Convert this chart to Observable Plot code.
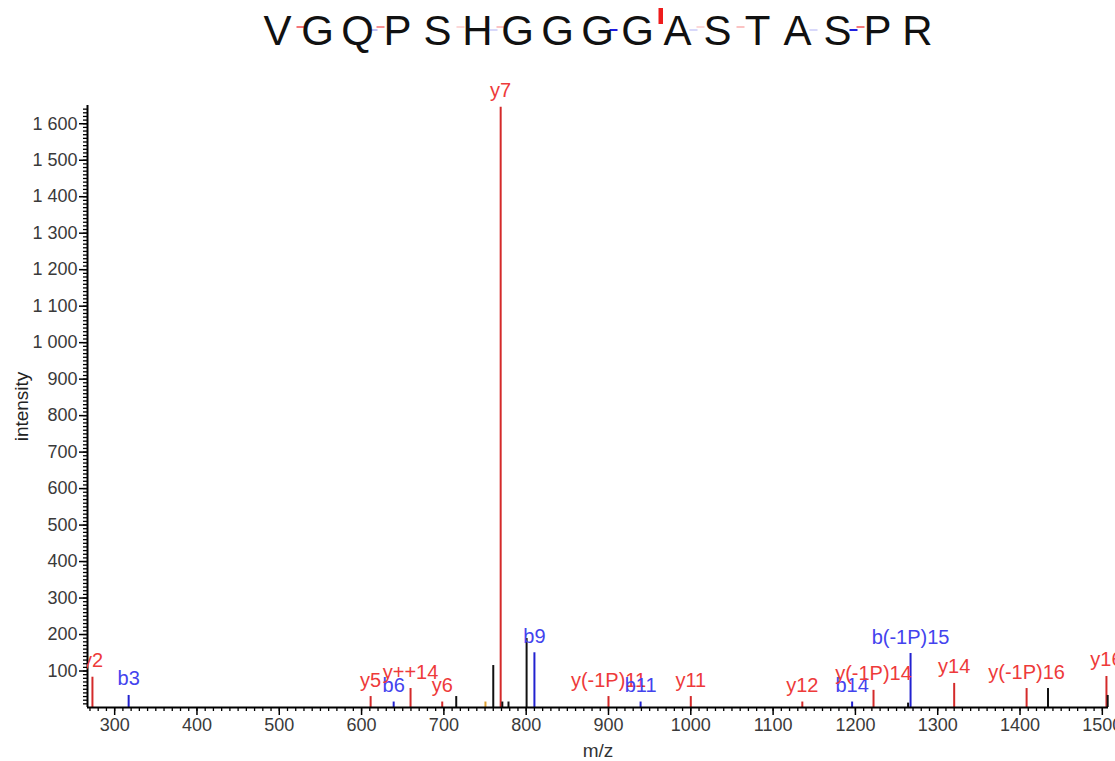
<!DOCTYPE html>
<html>
<head>
<meta charset="utf-8">
<script src="https://cdn.jsdelivr.net/npm/d3@7"></script>
<script src="https://cdn.jsdelivr.net/npm/@observablehq/plot@0.6"></script>
<style>
html, body { margin: 0; padding: 0; background: #fff; overflow: hidden; }
#wrap { position: relative; width: 1115px; height: 761px; font-family: "Liberation Sans", Arial, Helvetica, sans-serif; }
#title { display: block; }
</style>
</head>
<body>
<div id="wrap">
  <svg id="title" width="1115" height="60"></svg>
  <div id="chart"></div>
</div>
<script>
// ---- data ----
const sequence = ["V","G","Q","P","S","H","G","G","G","G","A","S","T","A","S","P","R"];

const peakMz = [273, 317, 611, 639, 659.5, 698, 715, 750.5, 760, 769, 771, 778.5, 800.5, 810, 900, 939, 1000, 1135.5, 1196, 1222, 1264, 1267, 1320, 1408, 1434, 1505, 1506.5];
const peakIntensity = [83, 33, 30, 15, 52, 15, 30, 15, 115, 1645, 15, 15, 189, 150, 30, 15, 30, 15, 15, 47, 12, 148, 66, 52, 52, 85, 33];
const peakType = ["y","b","y","b","y","y","","o","","y","","","","b","y","b","y","y","b","y","","b","y","y","","y",""];
const peakLabel = ["y2","b3","y5","b6","y++14","y6","","","","y7","","","","b9","y(-1P)11","b11","y11","y12","b14","y(-1P)14","","b(-1P)15","y14","y(-1P)16","","y16",""];

const xTickValues = [300, 400, 500, 600, 700, 800, 900, 1000, 1100, 1200, 1300, 1400, 1500];
const yTickValues = [100, 200, 300, 400, 500, 600, 700, 800, 900, 1000, 1100, 1200, 1300, 1400, 1500, 1600];
const xDomain = [267, 1507.5];
const yDomain = [0, 1650];

// ---- build ----
const peaks = peakMz.map((mz, i) => ({mz, intensity: peakIntensity[i], type: peakType[i], label: peakLabel[i]}));
const lineColor = {y: "#d42a2a", b: "#2222d0", o: "#e0a030", "": "#111"};
const textColor = {y: "#ee3a3a", b: "#4343ee", o: "#e0a030", "": "#111"};
const fontFamily = '"Liberation Sans", Arial, Helvetica, sans-serif';

const fmt = d3.formatLocale({decimal: ".", thousands: " ", grouping: [3], currency: ["", ""]}).format(",");
const minorX = d3.range(270, 1508, 10);
const minorY = d3.range(10, 1650, 10);

const marginLeft = 87, marginRight = 7;

const chart = Plot.plot({
  width: 1115,
  height: 701,
  marginTop: 45,
  marginBottom: 54,
  marginLeft,
  marginRight,
  x: {domain: xDomain},
  y: {domain: yDomain},
  style: {fontFamily, background: "white"},
  marks: [
    Plot.axisX({ticks: minorX, tickSize: 4, tickFormat: () => "", stroke: "#000", strokeWidth: 1.3, label: null}),
    Plot.axisX({ticks: xTickValues, tickSize: 8, tickPadding: 3, tickFormat: d => String(d), fontSize: 18, fill: "#3a3a3a", stroke: "#000", strokeWidth: 1.5, label: null}),
    Plot.axisY({ticks: minorY, tickSize: 4, tickFormat: () => "", stroke: "#000", strokeWidth: 1.3, label: null}),
    Plot.axisY({ticks: yTickValues, tickSize: 8, tickPadding: 2, tickFormat: fmt, fontSize: 18, fill: "#3a3a3a", stroke: "#000", strokeWidth: 1.5, label: null}),
    Plot.ruleX(peaks, {x: "mz", y1: 0, y2: "intensity", stroke: d => lineColor[d.type], strokeWidth: 2}),
    Plot.ruleX([xDomain[0]], {stroke: "#000", strokeWidth: 2}),
    Plot.ruleY([0], {stroke: "#000", strokeWidth: 2}),
    Plot.text(peaks, {filter: d => d.label && d.mz < 290, x: "mz", y: "intensity", text: "label", fill: d => textColor[d.type], fontSize: 20, lineAnchor: "bottom", dy: -10, clip: true}),
    Plot.text(peaks, {filter: d => d.label && d.mz >= 290, x: "mz", y: "intensity", text: "label", fill: d => textColor[d.type], fontSize: 20, lineAnchor: "bottom", dy: -10}),
    Plot.text(["intensity"], {frameAnchor: "left", text: d => d, rotate: -90, textAnchor: "middle", lineAnchor: "middle", dx: -66, fontSize: 19, fill: "#222"}),
    Plot.text(["m/z"], {frameAnchor: "bottom", text: d => d, lineAnchor: "middle", dy: 43, fontSize: 19, fill: "#333"})
  ]
});
document.getElementById("chart").appendChild(chart);

// ---- sequence title with fragmentation markers ----
const title = d3.select("#title");
const frameCenter = marginLeft + (1115 - marginLeft - marginRight) / 2;
const step = 40;
const letterX = i => frameCenter + (i - (sequence.length - 1) / 2) * step;
const n = sequence.length;
const maxI = d3.max(peakIntensity);

// markers derived from annotated ions
const ionRe = /^([by])(?:\+\+|\(-1P\))?(\d+)$/;
const markerMap = new Map();
peaks.forEach(p => {
  const m = ionRe.exec(p.label);
  if (!m) return;
  const ion = m[1], num = +m[2];
  const k = ion === "b" ? num : n - num; // boundary after residue k
  const key = ion + k;
  const prev = markerMap.get(key);
  if (!prev || prev.intensity < p.intensity) markerMap.set(key, {ion, k, intensity: p.intensity});
});
const markers = Array.from(markerMap.values());
const op = d3.scaleLinear([0, 150], [0.08, 1]).clamp(true);
const barH = d3.scaleLinear([0, maxI], [0, 16]);

markers.forEach(mk => {
  const bx = (letterX(mk.k - 1) + letterX(mk.k)) / 2;
  const color = mk.ion === "y" ? "#ee1c1c" : "#1c1ce0";
  const cx = mk.ion === "y" ? bx + 3 : bx - 4;
  const cy = mk.ion === "y" ? 27 : 30;
  const h = barH(mk.intensity);
  if (h > 3) {
    title.append("rect").attr("x", cx - 2).attr("y", 24 - h).attr("width", 4.5).attr("height", h)
      .attr("fill", color);
  } else {
    title.append("rect").attr("x", cx - 4).attr("y", cy - 1).attr("width", 8).attr("height", 2)
      .attr("fill", color).attr("opacity", op(mk.intensity));
  }
});

title.selectAll("text.letter").data(sequence).join("text")
  .attr("class", "letter")
  .attr("x", (d, i) => letterX(i))
  .attr("y", 45)
  .attr("text-anchor", "middle")
  .attr("font-family", fontFamily)
  .attr("font-size", 42)
  .attr("fill", "#111")
  .text(d => d);
</script>
</body>
</html>
